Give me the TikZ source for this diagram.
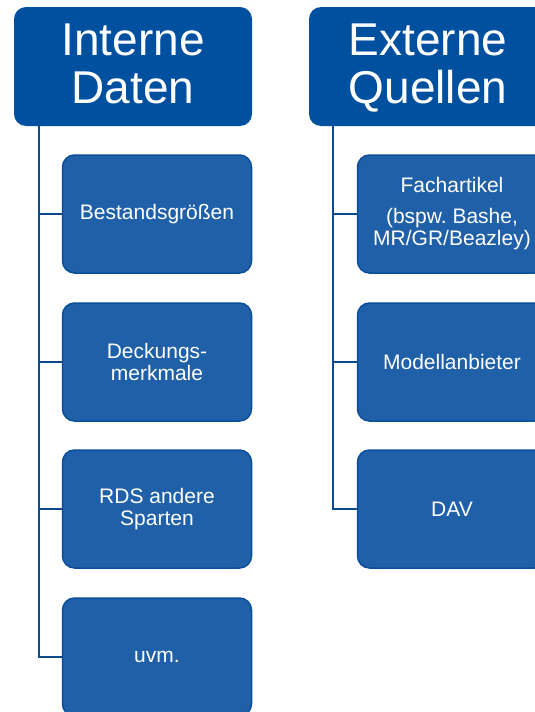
\documentclass[tikz,border=0pt]{standalone}
\usepackage{fontspec}
\setmainfont{Liberation Sans}
\frenchspacing
\definecolor{headblue}{RGB}{0,80,160}
\definecolor{childblue}{RGB}{31,96,168}
\definecolor{childedge}{RGB}{10,78,155}
\definecolor{linkblue}{RGB}{12,74,140}
\newcommand{\hdstrut}{\rule{0pt}{40.6pt}}
\tikzset{
  headbox/.style={fill=headblue, draw=none, rounded corners=12pt, minimum width=238pt, minimum height=119pt, inner sep=0pt, text=white, align=center, font=\fontsize{46}{48}\selectfont},
  childbox/.style={fill=childblue, draw=childedge, line width=1.5pt, rounded corners=12pt, minimum width=189pt, minimum height=118pt, inner sep=0pt, text=white, align=center, font=\fontsize{21}{22}\selectfont},
  conn/.style={draw=linkblue, line width=2pt}
}
\begin{document}
\begin{tikzpicture}[x=1pt,y=1pt]
\clip (0,0) rectangle (535,-712);
% left column
\node[headbox] (h1) at (133,-66.5) {\hdstrut Interne\\\strut Daten};
\node[childbox] (c1) at (157,-214) {Bestandsgrößen};
\node[childbox] (c2) at (157,-362) {Deckungs-\\merkmale};
\node[childbox] (c3) at (157,-509) {RDS andere\\Sparten};
\node[childbox] (c4) at (157,-657) {uvm.};
\coordinate (tA) at (39,-126);
\draw[conn] (tA) |- (c1.west);
\draw[conn] (tA) |- (c2.west);
\draw[conn] (tA) |- (c3.west);
\draw[conn] (tA) |- (c4.west);
% right column
\node[headbox] (h2) at (428,-66.5) {\hdstrut Externe\\\strut Quellen};
\node[childbox] (d1) at (452,-214) {Fachartikel\\[9pt](bspw.\ Bashe,\\MR/GR/Beazley)};
\node[childbox] (d2) at (452,-362) {Modellanbieter};
\node[childbox] (d3) at (452,-509) {DAV};
\coordinate (tB) at (333,-126);
\draw[conn] (tB) |- (d1.west);
\draw[conn] (tB) |- (d2.west);
\draw[conn] (tB) |- (d3.west);
\end{tikzpicture}
\end{document}
